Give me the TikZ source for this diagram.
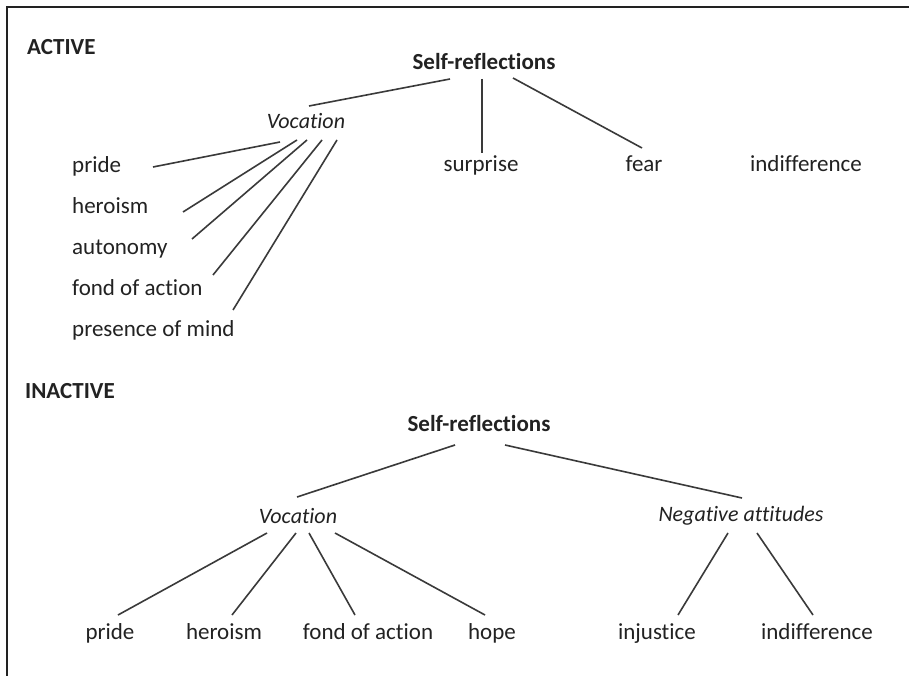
\documentclass[tikz,border=0pt]{standalone}
\usepackage{fontspec}
\setmainfont{Carlito}[Ligatures=NoCommon]
\usetikzlibrary{calc}
\definecolor{ink}{HTML}{222222}
\definecolor{wire}{HTML}{3A3A3A}
\begin{document}
\begin{tikzpicture}[x=1pt,y=-1pt,
  every node/.style={inner sep=0pt,text=ink,font=\fontsize{23}{28}\selectfont},
  lbl/.style={anchor=base},
  lleft/.style={anchor=base west},
  head/.style={anchor=base,font=\fontsize{23}{28}\selectfont\bfseries},
  title/.style={anchor=base west,font=\fontsize{23}{28}\selectfont\bfseries},
  cat/.style={anchor=base,font=\fontsize{22}{28}\selectfont\itshape},
  link/.style={draw=wire,line width=1.6pt}]
\useasboundingbox (0,0) rectangle (909,676);
\fill[white] (0,0) rectangle (909,676);
% frame
\draw[line width=1.8pt,ink] (7,676) -- (7,7) -- (909,7);

% ---------- ACTIVE ----------
\node[title] (act) at (27,55) {ACTIVE};
\node[head] (sr1) at (484,70) {Self-reflections};
\node[cat] (voc1) at (306,129) {Vocation};
\node[lbl] (sur) at (481,172) {surprise};
\node[lbl] (fear) at (644,172) {fear};
\node[lbl] (ind1) at (806,172) {indifference};
\node[lleft] (pr1) at (72,173) {pride};
\node[lleft] (her1) at (72,214) {heroism};
\node[lleft] (aut1) at (72,254) {autonomy};
\node[lleft] (fon1) at (72,295) {fond of action};
\node[lleft] (pre1) at (72,336) {presence of mind};

\draw[link] ($(sr1.base)+(-34,9)$) -- ($(voc1.base)+(3,-23)$);
\draw[link] ($(sr1.base)+(-2,9)$) -- ($(sur.base)+(1,-19)$);
\draw[link] ($(sr1.base)+(29,8)$) -- ($(fear.base)+(-2,-24)$);
\draw[link] ($(voc1.base)+(-26,13)$) -- ($(pr1.base west)+(81,-6)$);
\draw[link] ($(voc1.base)+(-9,11)$) -- ($(her1.base west)+(111,-2)$);
\draw[link] ($(voc1.base)+(1,11)$) -- ($(aut1.base west)+(120,-15)$);
\draw[link] ($(voc1.base)+(16,11)$) -- ($(fon1.base west)+(141,-20)$);
\draw[link] ($(voc1.base)+(31,11)$) -- ($(pre1.base west)+(161,-26)$);

% ---------- INACTIVE ----------
\node[title] (inact) at (25,398) {INACTIVE};
\node[head] (sr2) at (479,431) {Self-reflections};
\node[cat] (voc2) at (298,523) {Vocation};
\node[cat] (neg) at (741,521) {Negative attitudes};
\node[lbl] (pr2) at (110,639) {pride};
\node[lbl] (her2) at (224,639) {heroism};
\node[lbl] (fon2) at (368,639) {fond of action};
\node[lbl] (hop) at (492,639) {hope};
\node[lbl] (inj) at (657,639) {injustice};
\node[lbl] (ind2) at (817,639) {indifference};

\draw[link] ($(sr2.base)+(-24,14)$) -- ($(voc2.base)+(-1,-26)$);
\draw[link] ($(sr2.base)+(26,14)$) -- ($(neg.base)+(1,-23)$);
\draw[link] ($(voc2.base)+(-31,10)$) -- ($(pr2.base)+(8,-24)$);
\draw[link] ($(voc2.base)+(-2,10)$) -- ($(her2.base)+(8,-24)$);
\draw[link] ($(voc2.base)+(11,10)$) -- ($(fon2.base)+(-13,-24)$);
\draw[link] ($(voc2.base)+(37,10)$) -- ($(hop.base)+(-7,-24)$);
\draw[link] ($(neg.base)+(-13,12)$) -- ($(inj.base)+(21,-24)$);
\draw[link] ($(neg.base)+(16,12)$) -- ($(ind2.base)+(-4,-24)$);
\end{tikzpicture}
\end{document}
